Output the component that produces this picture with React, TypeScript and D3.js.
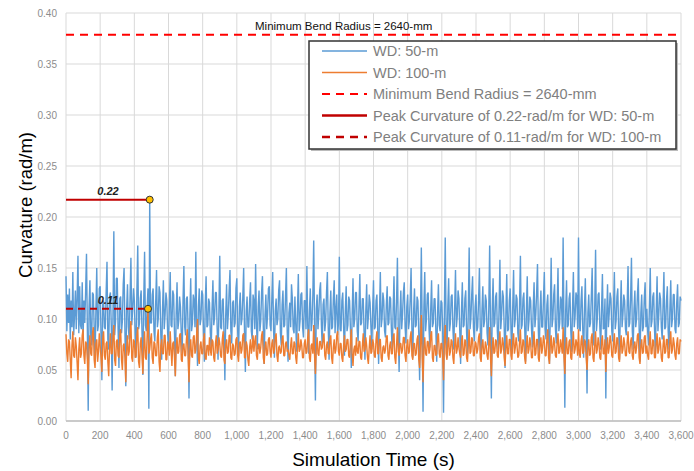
import React from "react";
import * as d3 from "d3";

// sample spacing of both series (s)
const timeStep = 5;

// curvature for WD 50 m, in 1e-3 rad/m, every 5 s from 0 to 3600 s (20 values = 100 s per row)
const wd50 = [
  142, 88, 124, 96, 130, 80, 118, 92, 146, 84, 104, 128, 90, 120, 162, 86, 132, 94, 90, 136,
  82, 118, 96, 128, 164, 90, 10, 112, 138, 84, 74, 126, 124, 92, 58, 108, 150, 88, 94, 130,
  132, 86, 40, 114, 118, 92, 90, 126, 156, 80, 70, 122, 126, 94, 30, 104, 186, 84, 98, 140,
  140, 90, 52, 120, 122, 86, 98, 134, 150, 88, 34, 110, 134, 92, 80, 122, 160, 94, 108, 130,
  118, 84, 62, 128, 172, 90, 96, 120, 128, 86, 45, 118, 166, 94, 88, 112, 130, 12, 217, 96,
  96, 124, 130, 88, 78, 116, 148, 92, 100, 132, 126, 84, 60, 110, 138, 90, 104, 126, 118, 86,
  70, 112, 146, 94, 92, 128, 124, 86, 44, 106, 136, 90, 98, 122, 112, 84, 66, 118, 152, 92,
  84, 120, 122, 90, 22, 104, 140, 88, 96, 124, 118, 92, 166, 86, 54, 112, 130, 94, 100, 128,
  124, 88, 58, 114, 142, 92, 94, 120, 116, 86, 70, 110, 138, 94, 102, 126, 126, 90, 60, 108,
  162, 92, 90, 118, 120, 86, 40, 104, 134, 90, 104, 128, 148, 88, 76, 116, 118, 92, 96, 130,
  140, 88, 64, 112, 126, 94, 100, 122, 150, 86, 48, 108, 122, 92, 92, 118, 136, 88, 80, 124,
  118, 90, 154, 96, 70, 112, 128, 88, 98, 126, 142, 92, 56, 104, 124, 90, 104, 130, 132, 94,
  88, 120, 146, 90, 62, 108, 120, 94, 100, 128, 138, 86, 74, 114, 128, 92, 94, 122, 150, 88,
  58, 106, 116, 92, 134, 120, 90, 86, 122, 94, 68, 110, 144, 88, 98, 124, 126, 92, 82, 118,
  118, 90, 152, 94, 66, 108, 130, 88, 96, 124, 177, 92, 20, 110, 124, 90, 106, 128, 136, 94,
  72, 114, 120, 88, 98, 126, 146, 92, 60, 106, 128, 90, 92, 120, 138, 86, 110, 124, 84, 96,
  161, 90, 88, 118, 126, 92, 64, 108, 132, 88, 94, 122, 118, 90, 52, 104, 140, 92, 100, 126,
  126, 88, 78, 112, 144, 94, 96, 120, 120, 86, 60, 108, 134, 90, 102, 124, 116, 92, 70, 110,
  138, 90, 92, 118, 124, 86, 56, 106, 146, 92, 100, 126, 118, 88, 82, 114, 132, 94, 96, 122,
  120, 88, 66, 110, 142, 92, 90, 118, 160, 86, 48, 104, 128, 90, 104, 126, 136, 92, 76, 112,
  124, 90, 98, 120, 150, 88, 62, 108, 130, 92, 94, 122, 118, 86, 40, 104, 170, 92, 9, 112,
  146, 88, 100, 124, 126, 90, 72, 110, 138, 92, 96, 120, 120, 88, 58, 106, 134, 94, 88, 118,
  116, 90, 8, 108, 180, 92, 62, 112, 140, 88, 96, 122, 124, 90, 70, 110, 148, 92, 102, 128,
  120, 88, 56, 108, 136, 92, 94, 120, 128, 86, 66, 110, 170, 90, 100, 124, 142, 92, 78, 112,
  124, 88, 92, 118, 150, 90, 60, 108, 132, 92, 98, 124, 118, 86, 74, 112, 172, 90, 22, 110,
  140, 92, 96, 122, 126, 88, 70, 110, 158, 90, 104, 128, 122, 92, 52, 106, 144, 88, 90, 118,
  130, 90, 66, 112, 148, 92, 100, 124, 120, 86, 78, 114, 162, 90, 94, 120, 126, 92, 58, 108,
  142, 88, 98, 122, 118, 90, 72, 112, 136, 92, 104, 126, 154, 88, 64, 108, 128, 92, 92, 120,
  146, 90, 80, 114, 124, 88, 56, 106, 160, 92, 100, 124, 134, 90, 76, 112, 150, 88, 96, 122,
  118, 90, 180, 94, 13, 108, 138, 92, 94, 120, 126, 88, 68, 110, 146, 92, 102, 126, 122, 90,
  180, 92, 88, 118, 132, 90, 62, 110, 140, 88, 27, 106, 124, 92, 96, 122, 150, 90, 74, 112,
  168, 88, 100, 124, 126, 92, 70, 110, 144, 90, 92, 120, 22, 104, 134, 92, 106, 126, 120, 88,
  78, 112, 146, 90, 98, 122, 130, 88, 60, 108, 138, 92, 104, 124, 118, 90, 84, 114, 152, 92,
  96, 120, 160, 88, 70, 110, 128, 92, 100, 124, 140, 90, 58, 106, 124, 88, 92, 120, 136, 92,
  110, 88, 74, 112, 150, 92, 98, 122, 126, 90, 66, 108, 142, 88, 104, 126, 120, 92, 80, 114,
  146, 90, 92, 118, 132, 88, 70, 110, 138, 92, 100, 124, 124, 90, 86, 116, 134, 92, 96, 122,
  118,
];

// curvature for WD 100 m, in 1e-3 rad/m, same time base
const wd100 = [
  85, 66, 58, 80, 78, 60, 42, 74, 88, 64, 62, 82, 74, 58, 40, 70, 82, 62, 66, 84,
  90, 64, 56, 78, 76, 60, 36, 72, 84, 66, 64, 86, 92, 60, 52, 76, 80, 58, 68, 86,
  74, 62, 48, 80, 88, 64, 60, 76, 78, 58, 44, 72, 86, 66, 66, 82, 94, 60, 54, 78,
  80, 64, 62, 84, 90, 60, 50, 74, 76, 62, 38, 70, 84, 64, 68, 86, 98, 62, 58, 80,
  78, 62, 64, 84, 92, 58, 52, 76, 82, 64, 46, 72, 88, 62, 60, 84, 110, 66, 70, 80,
  86, 62, 56, 78, 76, 64, 64, 82, 90, 58, 48, 74, 80, 66, 66, 84, 84, 60, 60, 78,
  74, 64, 88, 70, 54, 76, 78, 62, 44, 72, 82, 66, 68, 84, 86, 60, 58, 74, 76, 64,
  64, 80, 90, 62, 38, 70, 80, 64, 62, 82, 84, 66, 70, 86, 100, 62, 56, 74, 78, 66,
  66, 80, 86, 62, 60, 74, 74, 64, 82, 70, 64, 80, 78, 62, 58, 76, 84, 66, 70, 82,
  76, 64, 62, 80, 88, 60, 56, 74, 80, 66, 68, 84, 84, 62, 60, 76, 74, 64, 66, 80,
  82, 64, 58, 76, 78, 66, 70, 84, 86, 62, 62, 78, 74, 60, 54, 72, 80, 66, 72, 84,
  68, 78, 84, 64, 60, 74, 76, 66, 72, 84, 88, 62, 56, 72, 78, 64, 66, 80, 82, 68,
  62, 76, 80, 66, 70, 82, 86, 64, 58, 72, 74, 66, 68, 80, 84, 64, 64, 76, 78, 68,
  70, 64, 60, 74, 82, 66, 66, 78, 76, 62, 56, 72, 86, 68, 70, 80, 74, 62, 62, 76,
  80, 66, 68, 82, 90, 62, 58, 74, 76, 66, 94, 64, 46, 70, 82, 66, 64, 78, 78, 70,
  72, 80, 86, 64, 60, 74, 78, 66, 66, 80, 84, 62, 56, 72, 80, 66, 70, 84, 88, 68,
  64, 76, 76, 62, 58, 74, 84, 68, 70, 80, 80, 64, 62, 78, 90, 66, 54, 70, 74, 64,
  82, 68, 66, 78, 78, 62, 60, 74, 86, 68, 70, 82, 74, 62, 56, 72, 84, 66, 68, 80,
  76, 64, 62, 80, 88, 66, 66, 80, 80, 62, 58, 72, 74, 66, 70, 82, 84, 64, 60, 74,
  78, 66, 66, 82, 86, 62, 56, 74, 92, 68, 64, 76, 76, 66, 70, 82, 82, 64, 58, 74,
  80, 66, 68, 82, 88, 64, 60, 76, 76, 64, 66, 80, 84, 60, 52, 76, 104, 62, 38, 72,
  82, 66, 64, 78, 78, 66, 70, 84, 88, 62, 58, 74, 74, 64, 66, 82, 86, 66, 62, 76,
  76, 62, 40, 78, 94, 66, 60, 76, 82, 64, 68, 80, 78, 62, 56, 74, 86, 66, 70, 82,
  72, 66, 62, 78, 84, 64, 66, 80, 78, 62, 58, 74, 90, 66, 68, 82, 80, 64, 64, 78,
  76, 66, 70, 82, 86, 62, 58, 74, 80, 66, 66, 78, 74, 64, 60, 76, 92, 62, 44, 72,
  82, 66, 68, 80, 78, 64, 62, 78, 88, 66, 70, 82, 76, 62, 54, 72, 84, 66, 66, 80,
  80, 64, 60, 78, 86, 66, 72, 82, 74, 62, 64, 78, 90, 66, 68, 80, 78, 62, 56, 74,
  84, 66, 70, 82, 76, 62, 62, 78, 88, 64, 66, 80, 80, 62, 58, 76, 82, 66, 72, 84,
  78, 64, 64, 80, 90, 62, 56, 76, 84, 66, 70, 82, 76, 64, 62, 78, 86, 66, 68, 80,
  74, 66, 92, 62, 46, 72, 82, 66, 66, 78, 80, 62, 60, 76, 88, 66, 70, 80, 76, 64,
  90, 66, 62, 78, 84, 66, 68, 80, 78, 62, 50, 72, 80, 64, 66, 82, 86, 62, 58, 74,
  88, 66, 70, 82, 76, 62, 60, 78, 84, 66, 66, 80, 48, 70, 82, 66, 72, 84, 78, 64,
  62, 76, 86, 66, 68, 82, 80, 62, 58, 74, 84, 66, 70, 82, 76, 64, 64, 78, 88, 68,
  66, 78, 82, 64, 60, 74, 78, 66, 72, 84, 86, 62, 56, 74, 80, 66, 68, 82, 84, 66,
  74, 64, 60, 78, 88, 66, 66, 80, 78, 62, 62, 76, 86, 66, 70, 82, 76, 62, 58, 74,
  84, 66, 68, 80, 80, 62, 62, 78, 88, 66, 70, 82, 76, 64, 60, 76, 82, 66, 66, 80,
  78,
];

const xTicks = d3.range(0, 3601, 200);
const yTicks = [0, 0.05, 0.1, 0.15, 0.2, 0.25, 0.3, 0.35, 0.4];
const minBendRadius = 2.64; // m
const legendLabels = [
  "WD: 50-m",
  "WD: 100-m",
  "Minimum Bend Radius = 2640-mm",
  "Peak Curvature of 0.22-rad/m for WD: 50-m",
  "Peak Curvature of 0.11-rad/m for WD: 100-m",
];

const W = 694;
const H = 471;
const margin = { top: 13, right: 13, bottom: 50, left: 66 };

const blue = "#5b9bd5";
const orange = "#ed7d31";
const red = "#ff0000";
const darkRed = "#c00000";

export default function App() {
  const x = d3.scaleLinear().domain([0, 3600]).range([margin.left, W - margin.right]);
  const y = d3.scaleLinear().domain([0, 0.4]).range([H - margin.bottom, margin.top]);

  const toPoints = (arr: number[]) => arr.map((v, i) => [i * timeStep, v / 1000] as [number, number]);
  const s50 = toPoints(wd50);
  const s100 = toPoints(wd100);

  const line = d3
    .line<[number, number]>()
    .x((d) => x(d[0]))
    .y((d) => y(d[1]));

  const peak50 = s50[d3.maxIndex(s50, (d) => d[1])];
  const peak100 = s100[d3.maxIndex(s100, (d) => d[1])];
  const bendCurv = 1 / minBendRadius;

  const fmt = d3.format(",");
  const font = "'Liberation Sans', Arial, sans-serif";

  const legX = 309;
  const legY = 41;
  const legW = 367;
  const legH = 108;
  const rowH = 21.5;

  const legendSwatch = (i: number, x0: number, yy: number) => {
    const props = [
      { stroke: blue, width: 1.5, dash: undefined },
      { stroke: orange, width: 1.5, dash: undefined },
      { stroke: red, width: 2, dash: "8,6" },
      { stroke: darkRed, width: 2.5, dash: undefined },
      { stroke: darkRed, width: 2.5, dash: "8,6" },
    ][i];
    return (
      <line
        x1={x0}
        x2={x0 + 45}
        y1={yy}
        y2={yy}
        stroke={props.stroke}
        strokeWidth={props.width}
        strokeDasharray={props.dash}
      />
    );
  };

  return (
    <svg
      width={W}
      height={H}
      style={{ position: "absolute", left: 0, top: 0, background: "#fff" }}
      fontFamily={font}
    >
      {/* grid */}
      <g stroke="#d9d9d9" strokeWidth={1}>
        {xTicks.map((t) => (
          <line key={"gx" + t} x1={x(t)} x2={x(t)} y1={y(0)} y2={y(0.4)} />
        ))}
        {yTicks.map((t) => (
          <line key={"gy" + t} x1={x(0)} x2={x(3600)} y1={y(t)} y2={y(t)} />
        ))}
      </g>
      <line x1={x(0)} x2={x(3600)} y1={y(0)} y2={y(0)} stroke="#bfbfbf" strokeWidth={1.5} />

      {/* tick labels */}
      <g fill="#8c8c8c" fontSize={10}>
        {yTicks.map((t) => (
          <text key={"ty" + t} x={x(0) - 9} y={y(t) + 3.5} textAnchor="end">
            {t.toFixed(2)}
          </text>
        ))}
        {xTicks.map((t) => (
          <text key={"tx" + t} x={x(t)} y={y(0) + 18} textAnchor="middle">
            {fmt(t)}
          </text>
        ))}
      </g>

      {/* series */}
      <path d={line(s50) || ""} fill="none" stroke={blue} strokeWidth={1.4} strokeLinejoin="bevel" />
      <path d={line(s100) || ""} fill="none" stroke={orange} strokeWidth={1.4} strokeLinejoin="bevel" />

      {/* minimum bend radius */}
      <line
        x1={x(0)}
        x2={x(3600)}
        y1={y(bendCurv)}
        y2={y(bendCurv)}
        stroke={red}
        strokeWidth={2}
        strokeDasharray="8,6"
      />
      <text x={255} y={y(bendCurv) - 5} fontSize={11.5} fill="#111">
        Minimum Bend Radius = 2640-mm
      </text>

      {/* peak markers */}
      <line
        x1={x(0)}
        x2={x(peak50[0])}
        y1={y(peak50[1])}
        y2={y(peak50[1])}
        stroke={darkRed}
        strokeWidth={2}
      />
      <line
        x1={x(0)}
        x2={x(peak100[0])}
        y1={y(peak100[1])}
        y2={y(peak100[1])}
        stroke={darkRed}
        strokeWidth={2}
        strokeDasharray="7,5"
      />
      <text x={108} y={y(peak50[1]) - 5} textAnchor="middle" fontSize={11} fontWeight="bold" fontStyle="italic" fill="#222">
        {peak50[1].toFixed(2)}
      </text>
      <text x={108} y={y(peak100[1]) - 5} textAnchor="middle" fontSize={11} fontWeight="bold" fontStyle="italic" fill="#222">
        {peak100[1].toFixed(2)}
      </text>
      <circle cx={x(peak50[0])} cy={y(peak50[1])} r={3.5} fill="#ffc000" stroke="#333" strokeWidth={1} />
      <circle cx={x(peak100[0])} cy={y(peak100[1])} r={3.5} fill="#ffc000" stroke="#333" strokeWidth={1} />

      {/* legend */}
      <rect x={legX + 2} y={legY + 2} width={legW} height={legH} fill="#bbb" />
      <rect x={legX} y={legY} width={legW} height={legH} fill="#fff" stroke="#333" strokeWidth={1.5} />
      {legendLabels.map((lab, i) => {
        const yy = legY + 10 + i * rowH;
        return (
          <g key={lab}>
            {legendSwatch(i, legX + 13, yy)}
            <text x={legX + 64} y={yy + 5} fontSize={14.5} fill="#7f7f7f">
              {lab}
            </text>
          </g>
        );
      })}

      {/* axis titles */}
      <text x={(x(0) + x(3600)) / 2} y={H - 5} textAnchor="middle" fontSize={19} fill="#000">
        Simulation Time (s)
      </text>
      <text
        transform={`translate(32, 205) rotate(-90)`}
        textAnchor="middle"
        fontSize={18.5}
        fill="#000"
      >
        Curvature (rad/m)
      </text>
    </svg>
  );
}
